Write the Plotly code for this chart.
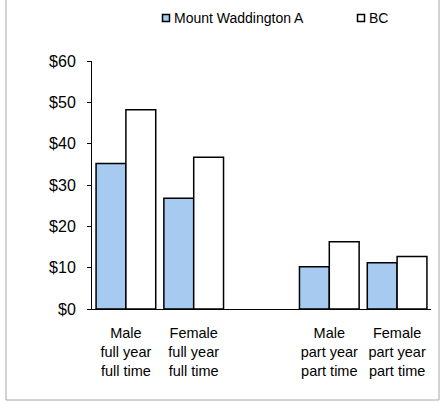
import plotly.graph_objects as go

# data
categories = [
    "Male<br>full year<br>full time",
    "Female<br>full year<br>full time",
    "",
    "Male<br>part year<br>part time",
    "Female<br>part year<br>part time",
]
mount_waddington = [35.2, 26.8, None, 10.2, 11.2]
bc = [48.2, 36.7, None, 16.3, 12.7]
y_ticks = [0, 10, 20, 30, 40, 50, 60]
y_tick_labels = ["$0", "$10", "$20", "$30", "$40", "$50", "$60"]
series_names = ["Mount Waddington A", "BC"]
series_colors = ["#A6CAF0", "white"]

W, H = 441, 402
L, R, T, B = 92, 10, 61, 93
positions = list(range(len(categories)))
font = "Liberation Sans, Arial, sans-serif"


def px_x(px):
    # figure pixel -> paper x
    return (px - L) / (W - L - R)


def px_y(py):
    # figure pixel (from top) -> paper y
    return (H - B - py) / (H - T - B)


fig = go.Figure()
for name, vals, color in zip(series_names, [mount_waddington, bc], series_colors):
    fig.add_trace(go.Bar(x=positions, y=vals, name=name,
                         marker=dict(color=color, line=dict(color="black", width=1.5)),
                         showlegend=False))

# legend drawn by hand: small outlined squares plus labels
legend_y = 18
for name, color, sym_x in zip(series_names, series_colors, [166, 361]):
    fig.add_shape(type="rect", xref="paper", yref="paper",
                  x0=px_x(sym_x - 3.5), x1=px_x(sym_x + 3.5),
                  y0=px_y(legend_y + 3.5), y1=px_y(legend_y - 3.5),
                  fillcolor=color, line=dict(color="black", width=1.5))
    fig.add_annotation(text=name, xref="paper", yref="paper",
                       x=px_x(sym_x + 6), y=px_y(legend_y),
                       xanchor="left", yanchor="middle", showarrow=False,
                       font=dict(size=14))

# grey frame around the chart (left, right, bottom)
frame = dict(type="line", xref="paper", yref="paper", line=dict(color="#a6a6a6", width=1))
fig.add_shape(x0=px_x(6), x1=px_x(6), y0=px_y(400), y1=px_y(0), **frame)
fig.add_shape(x0=px_x(439), x1=px_x(439), y0=px_y(400), y1=px_y(0), **frame)
fig.add_shape(x0=px_x(6), x1=px_x(439), y0=px_y(400), y1=px_y(400), **frame)

fig.update_layout(
    width=W, height=H,
    margin=dict(l=L, r=R, t=T, b=B),
    paper_bgcolor="white", plot_bgcolor="white",
    barmode="group", bargap=0.12, bargroupgap=0,
    font=dict(family=font, size=14, color="black"),
    showlegend=False,
)
fig.update_xaxes(
    range=[-0.5, len(categories) - 0.5],
    tickvals=positions, ticktext=categories,
    showline=True, linecolor="black", linewidth=1,
    ticks="", showgrid=False, zeroline=False,
    tickfont=dict(size=14.5), ticklabelstandoff=11,
)
fig.update_yaxes(
    range=[0, 60], tickvals=y_ticks, ticktext=y_tick_labels,
    showline=True, linecolor="black", linewidth=1,
    ticks="outside", ticklen=4, tickcolor="black",
    showgrid=False, zeroline=False,
    tickfont=dict(size=16), ticklabelstandoff=8,
)

# drop the default 8px page margin so the figure sits at the window origin
fig.write_html("out.html", config={"displayModeBar": False},
               post_script="document.body.style.margin='0';")
